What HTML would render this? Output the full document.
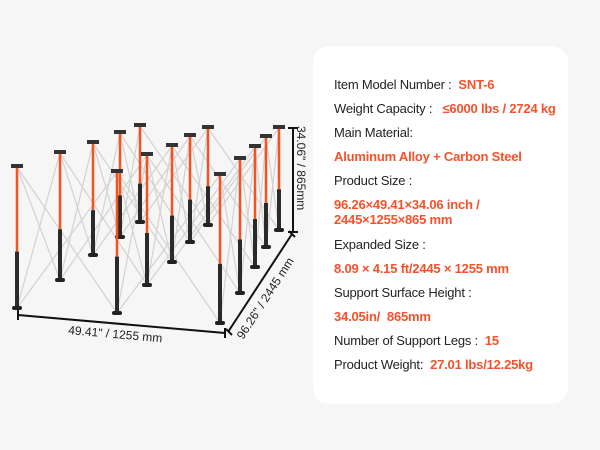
<!DOCTYPE html><html><head><style>
body{margin:0;width:600px;height:450px;background:#f6f6f6;font-family:"Liberation Sans",sans-serif;overflow:hidden;position:relative}
.p{position:absolute;left:313px;top:46px;width:255px;height:358px;background:#fff;border-radius:16px}
.t{position:absolute;left:334px;font-size:13px;color:#222;white-space:nowrap;letter-spacing:-0.2px}
.o{color:#f5512a;font-weight:bold}
</style></head><body>
<div class="p"></div>
<div class="t" style="top:77px">Item Model Number : &nbsp;<span class="o">SNT-6</span></div>
<div class="t" style="top:101px">Weight Capacity : &nbsp;&nbsp;<span class="o">≤6000 lbs / 2724 kg</span></div>
<div class="t" style="top:125px">Main Material:</div>
<div class="t o" style="top:149px">Aluminum Alloy + Carbon Steel</div>
<div class="t" style="top:173px">Product Size :</div>
<div class="t o" style="top:197px;line-height:15px">96.26×49.41×34.06 inch /<br>2445×1255×865 mm</div>
<div class="t" style="top:237px">Expanded Size :</div>
<div class="t o" style="top:261px">8.09 × 4.15 ft/2445 × 1255 mm</div>
<div class="t" style="top:285px">Support Surface Height :</div>
<div class="t o" style="top:309px">34.05in/ &nbsp;865mm</div>
<div class="t" style="top:333px">Number of Support Legs : &nbsp;<span class="o">15</span></div>
<div class="t" style="top:357px">Product Weight: &nbsp;<span class="o">27.01 lbs/12.25kg</span></div>
<svg id="s" width="310" height="450" style="position:absolute;left:0;top:0">
<g id="br" stroke="#d2d2d2" stroke-width="1.2"></g><g id="lg"></g>
<g stroke="#111" stroke-width="2" fill="none">
<path d="M288 128H298M293 128V232M288 232H298"/>
<path d="M18 310V320M18 315L225 333M225 328V338"/>
<path d="M228 332L292 234M226 329L232 335M289 231L295 237"/>
</g>
<text x="0" y="0" font-size="12" fill="#222" transform="translate(297,126) rotate(90)">34.06" / 865mm</text>
<text x="0" y="0" font-size="12" fill="#222" transform="translate(68,334) rotate(5)">49.41" / 1255 mm</text>
<text x="0" y="0" font-size="12" fill="#222" transform="translate(243,340) rotate(-57)">96.26" / 2445 mm</text>
</svg>
<script>
var cols=[[[17,167,308],[60,153,280],[93,143,255],[120,133,237],[140,126,222]],
[[117,172,313],[147,155,285],[172,146,262],[190,136,242],[208,128,225]],
[[220,175,323],[240,159,293],[255,147,267],[266,137,247],[279,128,230]]];
var br='',lg='';
function L(a,b){br+='<line x1="'+a[0]+'" y1="'+a[1]+'" x2="'+b[0]+'" y2="'+b[2]+'"/>';}
for(var c=0;c<3;c++)for(var r=0;r<5;r++){var p=cols[c][r];
if(r<4){L(p,cols[c][r+1]);L(cols[c][r+1],p);}
if(c<2){L(p,cols[c+1][r]);L(cols[c+1][r],p);}}
for(var r=4;r>=0;r--)for(var c=0;c<3;c++){var p=cols[c][r],x=p[0],t=p[1],b=p[2],m=t+(b-t)*0.6;
lg+='<line x1="'+x+'" y1="'+t+'" x2="'+x+'" y2="'+m+'" stroke="#f5531e" stroke-width="2.5"/>';
lg+='<line x1="'+x+'" y1="'+m+'" x2="'+x+'" y2="'+b+'" stroke="#2a2a2a" stroke-width="4"/>';
lg+='<rect x="'+(x-6)+'" y="'+(t-3)+'" width="12" height="4" fill="#333"/>';
lg+='<rect x="'+(x-5)+'" y="'+(b-2)+'" width="10" height="4" rx="2" fill="#222"/>';}
document.getElementById('br').innerHTML=br;document.getElementById('lg').innerHTML=lg;
</script>
</body></html>
